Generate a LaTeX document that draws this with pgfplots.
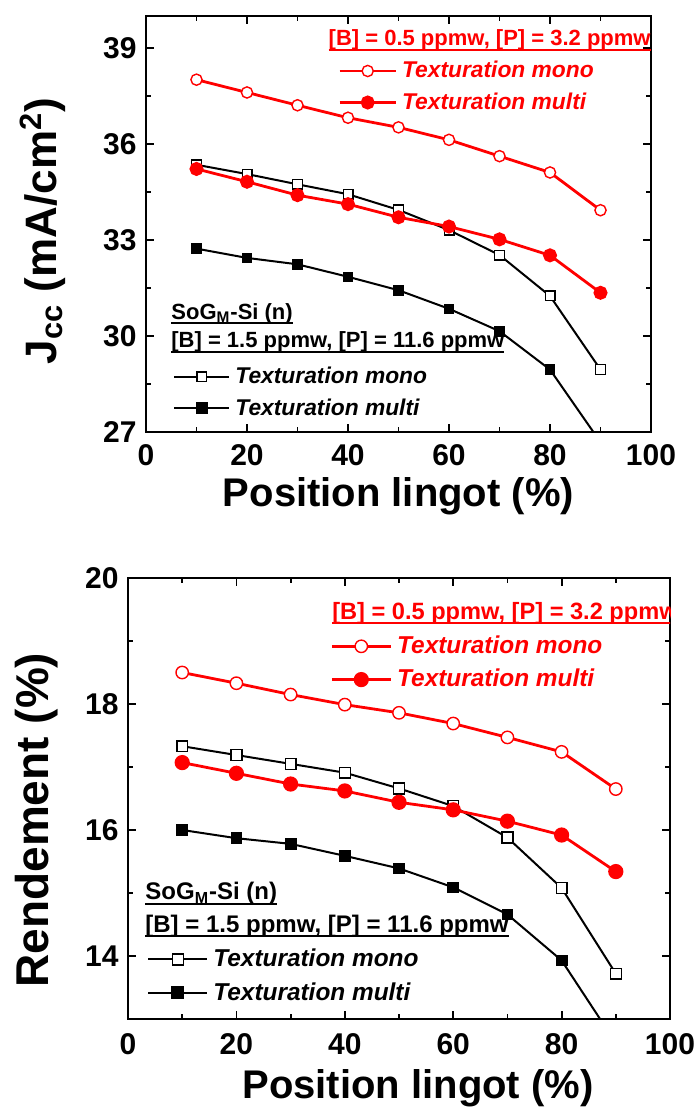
\documentclass[border=0pt]{standalone}
\usepackage{fontspec}
\setmainfont{Liberation Sans}
\usepackage{pgfplots}
\usepackage{pgfplotstable}
\pgfplotsset{compat=1.18}
\newcommand\ul[1]{\setbox0\hbox{#1}\rlap{\vrule height -1.3pt depth 2.3pt width \wd0}\box0}
\definecolor{myred}{RGB}{255,0,0}

\pgfplotstableread{
x  rmono rmulti bmono bmulti
10 38.01 35.22 35.35 32.73
20 37.61 34.82 35.06 32.44
30 37.21 34.40 34.74 32.24
40 36.82 34.12 34.43 31.85
50 36.52 33.71 33.94 31.43
60 36.13 33.42 33.31 30.85
70 35.62 33.02 32.53 30.15
80 35.11 32.52 31.25 28.95
90 33.93 31.35 28.95 26.68
}\jcc
\pgfplotstableread{
x  rmono rmulti bmono bmulti
10 18.50 17.07 17.33 16.00
20 18.33 16.90 17.19 15.87
30 18.15 16.73 17.05 15.78
40 17.99 16.62 16.91 15.59
50 17.86 16.44 16.66 15.39
60 17.69 16.32 16.38 15.09
70 17.47 16.14 15.88 14.66
80 17.24 15.92 15.08 13.93
90 16.65 15.34 13.72 12.62
}\rend

\pgfplotsset{
  common/.style={
    scale only axis, anchor=south west,
    xmin=0, xmax=100, xtick={0,20,...,100}, minor x tick num=1,
    tick align=inside, major tick length=4pt, minor tick length=2.6pt,
    axis line style={line width=0.9pt},
    every tick/.style={black, line width=0.9pt},
    /pgf/number format/assume math mode=true,
    ticklabel style={font=\bfseries\fontsize{15}{15}\selectfont},
    yticklabel style={anchor=east, inner sep=0pt, xshift=-4.5pt},
    xticklabel style={anchor=north, inner sep=0pt, yshift=-6pt},
    label style={font=\bfseries\fontsize{20}{20}\selectfont},
  },
  lgd/.style={
    legend cell align=left,
    legend style={draw=none, fill=none, inner sep=0pt, anchor=north west,
      row sep=#1, column sep=1.5pt, nodes={inner sep=1pt},
      font=\bfseries\itshape\fontsize{11.4}{13}\selectfont},
  },
}

\begin{document}
\begin{tikzpicture}
\path[use as bounding box] (0pt,0pt) rectangle (349pt,554pt);

% ---------------- TOP PANEL ----------------
\begin{axis}[common, at={(73pt,338pt)}, width=252.5pt, height=208pt,
  ymin=27, ymax=40, ytick={27,30,...,39}, minor y tick num=1,
  xlabel={Position lingot (\%)},
  xlabel style={at={(axis description cs:0.5,-0.178)}, anchor=base},
  ylabel={J\textsubscript{cc} (mA/cm\textsuperscript{2})},
  ylabel style={at={(axis description cs:-0.178,0.483)}, anchor=base, font=\bfseries\fontsize{22}{22}\selectfont},
  lgd=4pt,
  legend style={at={(axis description cs:0.0535,0.162)}},
  legend image code/.code={\draw[mark repeat=2,mark phase=2,#1] plot coordinates {(0pt,0pt)(13.75pt,0pt)(27.5pt,0pt)};},
]
\addplot[black, line width=1pt, mark=square*, mark size=2.4pt, mark options={fill=white, line width=0.7pt}] table[x=x,y=bmono] {\jcc};
\addlegendentry{Texturation mono}
\addplot[black, line width=1pt, forget plot] table[x=x,y=bmulti] {\jcc};
\addplot[black, only marks, mark=square*, mark size=2.4pt, mark indices={1,2,3,4,5,6,7,8}, forget plot] table[x=x,y=bmulti] {\jcc};
\addlegendimage{black, line width=1pt, mark=square*, mark size=2.4pt}
\addlegendentry{Texturation multi}
\node[anchor=base west, inner sep=0pt, font=\bfseries\fontsize{11}{13}\selectfont] at (axis description cs:0.0495,0.2716) {\ul{SoG\textsubscript{M}-Si (n)}};
\node[anchor=base west, inner sep=0pt, font=\bfseries\fontsize{11}{13}\selectfont] at (axis description cs:0.0495,0.202) {\ul{[B] = 1.5 ppmw, [P] = 11.6 ppmw}};
\end{axis}

\begin{axis}[common, hide axis, at={(73pt,338pt)}, width=252.5pt, height=208pt,
  ymin=27, ymax=40,
  lgd=4pt,
  legend style={at={(axis description cs:0.380,0.897)}, text=myred},
  legend image code/.code={\draw[mark repeat=2,mark phase=2,#1] plot coordinates {(0pt,0pt)(14pt,0pt)(28pt,0pt)};},
]
\addplot[myred, line width=1.4pt, mark=*, mark size=2.8pt, mark options={fill=white, line width=0.7pt}] table[x=x,y=rmono] {\jcc};
\addlegendentry{Texturation mono}
\addplot[myred, line width=1.4pt, mark=*, mark size=2.8pt, mark options={fill=myred}] table[x=x,y=rmulti] {\jcc};
\addlegendentry{Texturation multi}
\node[anchor=base east, inner sep=0pt, text=myred, font=\bfseries\fontsize{11}{13}\selectfont] at (axis description cs:1,0.928) {\ul{[B] = 0.5 ppmw, [P] = 3.2 ppmw}};
\end{axis}

% ---------------- BOTTOM PANEL ----------------
\begin{axis}[common, at={(64pt,44.5pt)}, width=271pt, height=220.5pt,
  ymin=13, ymax=20, ytick={14,16,18,20}, minor y tick num=1,
  xticklabel style={yshift=-1pt},
  xlabel={Position lingot (\%)},
  xlabel style={at={(axis description cs:0.535,-0.181)}, anchor=base},
  ylabel={Rendement (\%)},
  ylabel style={at={(axis description cs:-0.146,0.451)}, anchor=base, font=\bfseries\fontsize{23}{23}\selectfont},
  lgd=4.3pt,
  legend style={at={(axis description cs:0.035,0.164)}, font=\bfseries\itshape\fontsize{12.2}{14}\selectfont},
  legend image code/.code={\draw[mark repeat=2,mark phase=2,#1] plot coordinates {(0pt,0pt)(14.75pt,0pt)(29.5pt,0pt)};},
]
\addplot[black, line width=1pt, mark=square*, mark size=2.7pt, mark options={fill=white, line width=0.7pt}] table[x=x,y=bmono] {\rend};
\addlegendentry{Texturation mono}
\addplot[black, line width=1pt, forget plot] table[x=x,y=bmulti] {\rend};
\addplot[black, only marks, mark=square*, mark size=2.7pt, mark indices={1,2,3,4,5,6,7,8}, forget plot] table[x=x,y=bmulti] {\rend};
\addlegendimage{black, line width=1pt, mark=square*, mark size=2.7pt}
\addlegendentry{Texturation multi}
\node[anchor=base west, inner sep=0pt, font=\bfseries\fontsize{12}{14}\selectfont] at (axis description cs:0.0314,0.27) {\ul{SoG\textsubscript{M}-Si (n)}};
\node[anchor=base west, inner sep=0pt, font=\bfseries\fontsize{12}{14}\selectfont] at (axis description cs:0.0314,0.197) {\ul{[B] = 1.5 ppmw, [P] = 11.6 ppmw}};
\end{axis}

\begin{axis}[common, hide axis, at={(64pt,44.5pt)}, width=271pt, height=220.5pt,
  ymin=13, ymax=20,
  lgd=4.3pt,
  legend style={at={(axis description cs:0.3727,0.874)}, text=myred, font=\bfseries\itshape\fontsize{12.2}{14}\selectfont},
  legend image code/.code={\draw[mark repeat=2,mark phase=2,#1] plot coordinates {(0pt,0pt)(14.75pt,0pt)(29.5pt,0pt)};},
]
\addplot[myred, line width=1.4pt, mark=*, mark size=3.1pt, mark options={fill=white, line width=0.7pt}] table[x=x,y=rmono] {\rend};
\addlegendentry{Texturation mono}
\addplot[myred, line width=1.4pt, mark=*, mark size=3.1pt, mark options={fill=myred}] table[x=x,y=rmulti] {\rend};
\addlegendentry{Texturation multi}
\node[anchor=base east, inner sep=0pt, text=myred, font=\bfseries\fontsize{11.8}{14}\selectfont] at (axis description cs:1.0148,0.907) {\ul{[B] = 0.5 ppmw, [P] = 3.2 ppmw}};
\end{axis}
\end{tikzpicture}
\end{document}
